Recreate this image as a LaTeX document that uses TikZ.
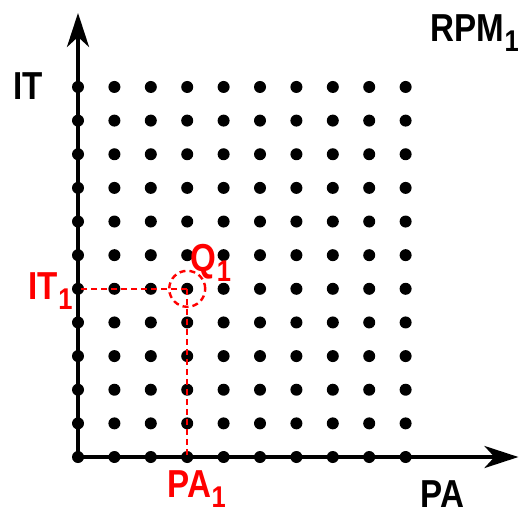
\documentclass[tikz,border=0pt]{standalone}
\usepackage{fontspec}
\setmainfont{Liberation Sans}[FakeStretch=0.85]
\usetikzlibrary{arrows.meta}
\definecolor{ink}   {HTML}{000000}
\definecolor{redpt} {HTML}{FF0000}
\newcommand{\idx}[1]{\kern0.3pt\raisebox{-5pt}{\fontsize{15}{15}\selectfont #1}}
\tikzset{
  dot/.style     ={circle, fill=ink, inner sep=0pt, minimum size=6pt},
  axisline/.style={draw=ink, line width=2pt,
                   -{Stealth[length=17pt, width=11pt, inset=5pt]}},
  guide/.style   ={draw=redpt, line width=1.2pt, dash pattern=on 3pt off 2pt},
  lbl/.style     ={font=\bfseries\fontsize{19.5}{20}\selectfont, text=ink,
                   inner sep=0pt, anchor=base west},
  lblr/.style    ={lbl, text=redpt}
}

\begin{document}
\begin{tikzpicture}[x=18.2pt, y=16.82pt]
\useasboundingbox (-2.143,-1.665) rectangle (12.170,13.585);
\coordinate (O) at (0,0);
\coordinate (xtip) at (12.1,0);
\coordinate (ytip) at (0,13.2);
\draw[axisline] (O) -- (xtip);
\draw[axisline] (O) -- (ytip);

% operating points grid
\foreach \i in {0,...,9}
  \foreach \j in {0,...,11}
    \node[dot] (p-\i-\j) at (\i,\j) {};

% point Q1 and its projections
\node[guide, circle, inner sep=0pt, minimum size=18pt] (q1) at (p-3-5) {};
\draw[guide] (q1.center) -- (p-0-5.center);
\draw[guide] (q1.center) -- (p-3-0.center);

\node[lbl]  (it)    at (-1.786,10.64) {IT};
\node[lbl]  (rpm)   at (9.670,12.337) {RPM\idx{1}};
\node[lbl]  (pa)    at (9.40,-1.50)   {PA};
\node[lblr] (it1)   at (-1.374,4.697) {IT\idx{1}};
\node[lblr] (q1lbl) at (3.077,5.50)   {Q\idx{1}};
\node[lblr] (pa1)   at (2.445,-1.20)  {PA\idx{1}};
\end{tikzpicture}
\end{document}
